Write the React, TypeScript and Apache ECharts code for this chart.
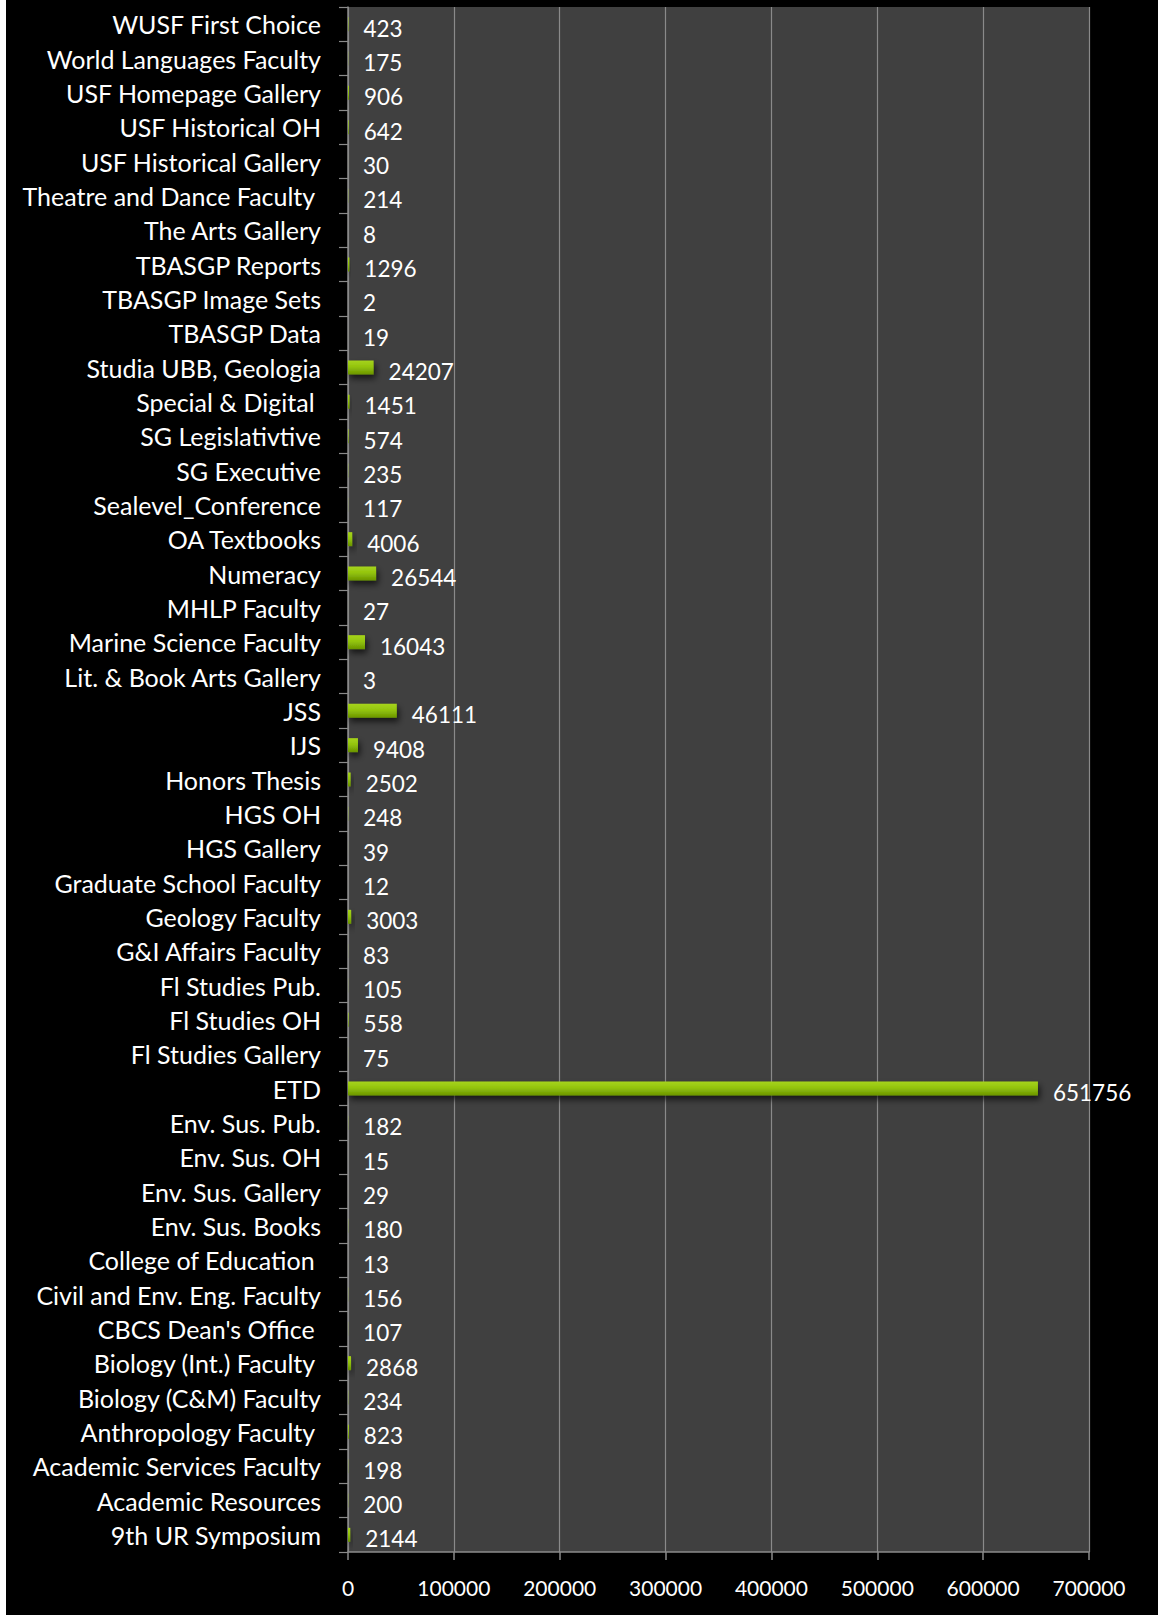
import React, { useEffect, useRef } from "react";
import * as echarts from "echarts";

const categories: string[] = [
  "WUSF First Choice",
  "World Languages Faculty",
  "USF Homepage Gallery",
  "USF Historical OH",
  "USF Historical Gallery",
  "Theatre and Dance Faculty ",
  "The Arts Gallery",
  "TBASGP Reports",
  "TBASGP Image Sets",
  "TBASGP Data",
  "Studia UBB, Geologia",
  "Special & Digital ",
  "SG Legislativtive",
  "SG Executive",
  "Sealevel_Conference",
  "OA Textbooks",
  "Numeracy",
  "MHLP Faculty",
  "Marine Science Faculty",
  "Lit. & Book Arts Gallery",
  "JSS",
  "IJS",
  "Honors Thesis",
  "HGS OH",
  "HGS Gallery",
  "Graduate School Faculty",
  "Geology Faculty",
  "G&I Affairs Faculty",
  "Fl Studies Pub.",
  "Fl Studies OH",
  "Fl Studies Gallery",
  "ETD",
  "Env. Sus. Pub.",
  "Env. Sus. OH",
  "Env. Sus. Gallery",
  "Env. Sus. Books",
  "College of Education ",
  "Civil and Env. Eng. Faculty",
  "CBCS Dean's Office ",
  "Biology (Int.) Faculty ",
  "Biology (C&M) Faculty",
  "Anthropology Faculty ",
  "Academic Services Faculty",
  "Academic Resources",
  "9th UR Symposium",
];

const values: number[] = [
  423, 175, 906, 642, 30, 214, 8, 1296, 2, 19, 24207, 1451, 574, 235, 117, 4006,
  26544, 27, 16043, 3, 46111, 9408, 2502, 248, 39, 12, 3003, 83, 105, 558, 75,
  651756, 182, 15, 29, 180, 13, 156, 107, 2868, 234, 823, 198, 200, 2144,
];

const xTicks = { min: 0, max: 700000, interval: 100000 };

const FONT = "Lato";

export default function App() {
  const ref = useRef<HTMLDivElement>(null);
  useEffect(() => {
    if (!ref.current) return;
    const chart = echarts.init(ref.current, undefined, { renderer: "svg" });
    chart.setOption({
      animation: false,
      backgroundColor: "#000000",
      grid: {
        left: 342,
        right: 69,
        top: 7,
        bottom: 63,
        show: true,
        backgroundColor: "#404040",
        borderWidth: 0,
      },
      xAxis: {
        type: "value",
        min: xTicks.min,
        max: xTicks.max,
        interval: xTicks.interval,
        axisLine: { show: true, lineStyle: { color: "#8a8a8a", width: 1.5 } },
        axisTick: { show: true, length: 8, lineStyle: { color: "#8a8a8a", width: 1.5 } },
        splitLine: { show: true, lineStyle: { color: "#8a8a8a", width: 1.2 } },
        axisLabel: {
          color: "#ffffff",
          fontFamily: FONT,
          fontSize: 21,
          margin: 25,
          showMinLabel: true,
          showMaxLabel: true,
          formatter: (v: number) => String(v),
        },
      },
      yAxis: {
        type: "category",
        inverse: true,
        data: categories,
        axisLine: { show: true, lineStyle: { color: "#8a8a8a", width: 1.5 } },
        axisTick: { show: true, length: 9, lineStyle: { color: "#8a8a8a", width: 1.2 } },
        splitLine: { show: false },
        axisLabel: {
          color: "#ffffff",
          fontFamily: FONT,
          fontSize: 25,
          margin: 27,
          interval: 0,
          padding: [0, 0, 4, 0],
        },
      },
      series: [
        {
          type: "bar",
          data: values,
          barWidth: 14,
          itemStyle: {
            color: new echarts.graphic.LinearGradient(0, 0, 0, 1, [
              { offset: 0, color: "#a6d41c" },
              { offset: 0.45, color: "#93c40e" },
              { offset: 1, color: "#6a9400" },
            ]),
            shadowColor: "rgba(0,0,0,0.65)",
            shadowBlur: 6,
            shadowOffsetY: 4,
            shadowOffsetX: 2,
          },
          label: {
            show: true,
            position: "right",
            distance: 15,
            offset: [0, 4],
            color: "#ffffff",
            fontFamily: FONT,
            fontSize: 22.5,
          },
        },
      ],
    });
    return () => chart.dispose();
  }, []);
  return (
    <div
      ref={ref}
      style={{ position: "absolute", left: 6, top: 0, width: 1152, height: 1615 }}
    />
  );
}
